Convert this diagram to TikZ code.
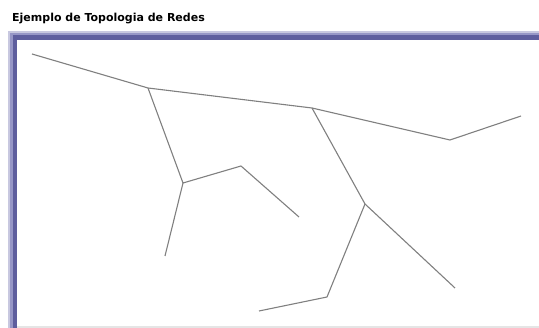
\documentclass[tikz,border=0pt]{standalone}
\usepackage{fontspec}
\setmainfont{DejaVu Sans}
\definecolor{marcoext}{RGB}{200,200,224}
\definecolor{marcomed}{RGB}{150,150,198}
\definecolor{marcoint}{RGB}{94,94,158}
\definecolor{cable}{RGB}{128,128,128}

\begin{document}
\begin{tikzpicture}[
  x=1pt, y=-1pt,
  cable/.style={draw=cable, line width=1.1pt, line join=round},
  titulo/.style={anchor=base west, inner sep=0pt, font=\bfseries\fontsize{11}{13}\selectfont}
]
  \useasboundingbox (0,0) rectangle (539,328);
  % marco
  \fill[marcoext] (8,31) rectangle (539,328);
  \fill[marcomed] (10,33) rectangle (539,328);
  \fill[marcoint] (13,35) rectangle (539,328);
  \fill[white] (17,40) rectangle (539,326);
  \fill[black!10] (17,326) rectangle (539,328);
  \node[titulo] (tit) at (12,22) {Ejemplo de Topologia de Redes};
  % puntos de la red
  \coordinate (n1) at (32,54);
  \coordinate (n2) at (148,88);
  \coordinate (n3) at (312,108);
  \coordinate (n4) at (450,140);
  \coordinate (n5) at (521,116);
  \coordinate (n6) at (183,183);
  \coordinate (n7) at (241,166);
  \coordinate (n8) at (299,217);
  \coordinate (n9) at (165,256);
  \coordinate (n10) at (365,204);
  \coordinate (n11) at (455,288);
  \coordinate (n12) at (327,297);
  \coordinate (n13) at (259,311);
  % enlaces
  \draw[cable] (n1) -- (n2) -- (n3) -- (n4) -- (n5);
  \draw[cable] (n2) -- (n6) -- (n7) -- (n8);
  \draw[cable] (n6) -- (n9);
  \draw[cable] (n3) -- (n10) -- (n11);
  \draw[cable] (n10) -- (n12) -- (n13);
\end{tikzpicture}
\end{document}
